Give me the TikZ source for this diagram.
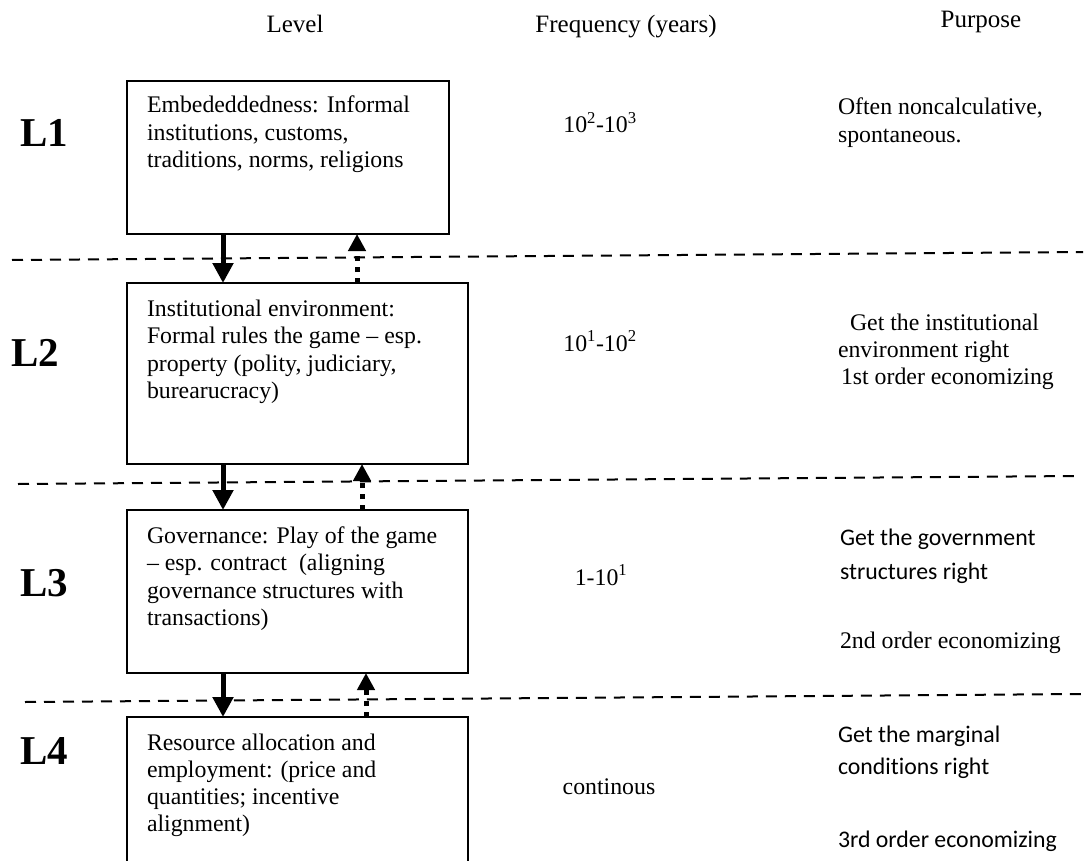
\documentclass[tikz,border=0pt]{standalone}
\usepackage{fontspec}
\setmainfont{Liberation Serif}
\newfontfamily\calib[Ligatures=NoCommon]{Carlito}
\usetikzlibrary{arrows.meta}
\begin{document}
\begin{tikzpicture}[x=1pt,y=-1pt,
  box/.style={draw, line width=1.5pt, rectangle, anchor=north west, inner sep=0pt, outer sep=0pt},
  txt/.style={anchor=base west, inner sep=0pt, outer sep=0pt, font=\fontsize{23.8}{27.5}\selectfont},
  ctxt/.style={anchor=base, inner sep=0pt, outer sep=0pt, font=\fontsize{23.8}{27.5}\selectfont},
  htxt/.style={anchor=base, inner sep=0pt, outer sep=0pt, font=\fontsize{25}{28}\selectfont},
  stxt/.style={anchor=base west, inner sep=0pt, outer sep=0pt, font=\fontsize{23.8}{27.5}\calib},
  lvl/.style={anchor=base west, inner sep=0pt, outer sep=0pt, font=\fontsize{41}{44}\selectfont\bfseries},
  sep/.style={line width=2pt, dash pattern=on 11pt off 8pt},
  downarr/.style={line width=5pt, -{Triangle[width=20pt,length=20pt]}},
  uparr/.style={line width=5pt, dash pattern=on 5pt off 6pt, -{Triangle[width=17pt,length=17pt]}}
]
\useasboundingbox (0,0) rectangle (1089,861);
\clip (0,0) rectangle (1089,861);

% header
\node[htxt] (hlevel) at (295,33) {Level};
\node[htxt] (hfreq) at (626,33) {Frequency (years)};
\node[htxt] (hpurp) at (981,28) {Purpose};

% level labels
\node[lvl] (l1) at (20,147) {L1};
\node[lvl] (l2) at (11,366) {L2};
\node[lvl] (l3) at (20,596) {L3};
\node[lvl] (l4) at (20,764) {L4};

% boxes
\node[box, minimum width=322pt, minimum height=153pt] (b1) at (127,81) {};
\node[box, minimum width=341pt, minimum height=181pt] (b2) at (127,283) {};
\node[box, minimum width=341pt, minimum height=163pt] (b3) at (127,510) {};
\node[box, minimum width=341pt, minimum height=170pt] (b4) at (127,717) {};

% box texts
\foreach [count=\i] \t in {{Embededdedness: Informal},{institutions, customs,},{traditions, norms, religions}}
  \node[txt] (bt1\i) at (147,{113+27.5*(\i-1)}) {\t};
\foreach [count=\i] \t in {{Institutional environment:},{Formal rules the game – esp.},{property (polity, judiciary,},{burearucracy)}}
  \node[txt] (bt2\i) at (147,{316+27.5*(\i-1)}) {\t};
\foreach [count=\i] \t in {{Governance: Play of the game},{– esp. contract\ \ (aligning},{governance structures with},{transactions)}}
  \node[txt] (bt3\i) at (147,{543+27.5*(\i-1)}) {\t};
\foreach [count=\i] \t in {{Resource allocation and},{employment: (price and},{quantities; incentive},{alignment)}}
  \node[txt] (bt4\i) at (147,{750+27*(\i-1)}) {\t};

% frequencies
\node[ctxt] (f1) at (600,133) {10\textsuperscript{2}-10\textsuperscript{3}};
\node[ctxt] (f2) at (600,351) {10\textsuperscript{1}-10\textsuperscript{2}};
\node[ctxt] (f3) at (601,585) {1-10\textsuperscript{1}};
\node[ctxt] (f4) at (609,794) {continous};

% purposes
\node[txt] (p11) at (838,115) {Often noncalculative,};
\node[txt] (p12) at (838,143) {spontaneous.};
\node[txt] (p21) at (850,330) {Get the institutional};
\node[txt] (p22) at (838,357) {environment right};
\node[txt] (p23) at (841,384) {1st order economizing};
\node[stxt] (p31) at (840,545) {Get the government};
\node[stxt] (p32) at (840,579) {structures right};
\node[txt] (p33) at (840,648) {2nd order economizing};
\node[stxt] (p41) at (838,742) {Get the marginal};
\node[stxt] (p42) at (838,774) {conditions right};
\node[stxt] (p43) at (838,847) {3rd order economizing};

% separators
\draw[sep] (12,260) -- (1083,252);
\draw[sep] (18,484) -- (1078,476);
\draw[sep] (25,702) -- (1082,694);

% arrows
\coordinate (xd) at (223,0);
\coordinate (xu1) at (357,0);
\coordinate (xu2) at (362,0);
\coordinate (xu3) at (366,0);
\draw[downarr] (b1.south -| xd) -- (b2.north -| xd);
\draw[uparr] (b2.north -| xu1) -- (b1.south -| xu1);
\draw[downarr] (b2.south -| xd) -- (b3.north -| xd);
\draw[uparr] (b3.north -| xu2) -- (b2.south -| xu2);
\draw[downarr] (b3.south -| xd) -- (b4.north -| xd);
\draw[uparr] (b4.north -| xu3) -- (b3.south -| xu3);
\end{tikzpicture}
\end{document}
